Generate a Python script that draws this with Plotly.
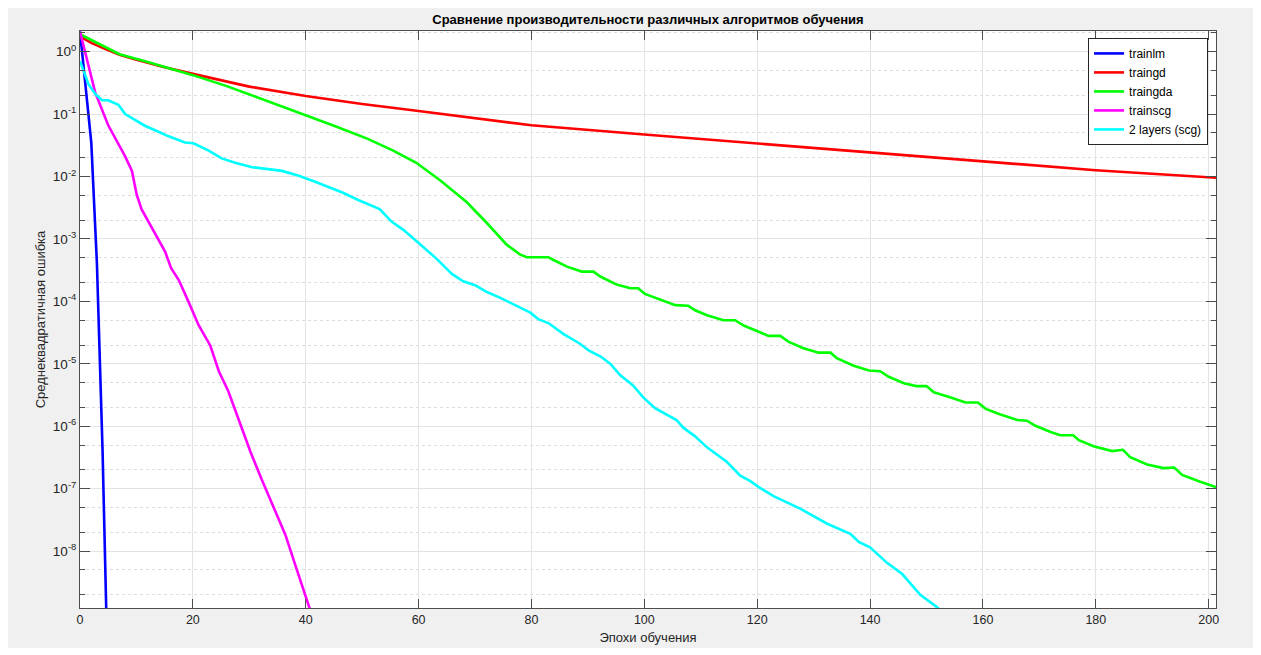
import plotly.graph_objects as go

title_text = "Сравнение производительности различных алгоритмов обучения"
x_label = "Эпохи обучения"
y_label = "Среднеквадратичная ошибка"

x_ticks = [0, 20, 40, 60, 80, 100, 120, 140, 160, 180, 200]
y_ticks = [1, 1e-1, 1e-2, 1e-3, 1e-4, 1e-5, 1e-6, 1e-7, 1e-8]
y_tick_text = ["10<sup>0</sup>", "10<sup>-1</sup>", "10<sup>-2</sup>", "10<sup>-3</sup>",
               "10<sup>-4</sup>", "10<sup>-5</sup>", "10<sup>-6</sup>", "10<sup>-7</sup>",
               "10<sup>-8</sup>"]

names = ["trainlm", "traingd", "traingda", "trainscg", "2 layers (scg)"]
colors = ["#0000ff", "#ff0000", "#00ff00", "#ff00ff", "#00ffff"]

lm_x = [0, 1, 2, 3, 4, 5]
lm_y = [2.1, 0.28, 0.035, 4.0e-4, 4.0e-7, 5.0e-11]

gd_x = [0, 2, 4, 7, 10, 15, 20, 30, 40, 50, 60, 70, 80, 100, 120, 140, 160, 180, 201.5]
gd_y = [1.74, 1.38, 1.15, 0.89, 0.74, 0.56, 0.44, 0.275, 0.195, 0.145, 0.112, 0.085,
        0.066, 0.047, 0.034, 0.0245, 0.0174, 0.0126, 0.0095]

gda_x = [0, 3.5, 7, 12, 20, 26, 32, 39, 45, 51, 55.5, 59.6, 63.8, 68.5, 72.1, 75.6, 78, 79.2,
         83, 83.9, 86.3, 88.9, 91, 92.2, 95.1, 97.5, 98.9, 100.1, 102.8, 105.5, 107.8, 109,
         111.1, 114, 116.1, 117.6, 120.5, 122, 124.1, 125.6, 128.2, 130.9, 133, 134.1, 137.1,
         139.8, 141.8, 143.3, 146, 148.2, 150, 151.3, 154.3, 156.9, 159.1, 160.5, 163.1,
         166.1, 167.8, 169.3, 172, 173.7, 176, 177, 179.6, 182.9, 184.8, 186.1, 189.1, 192,
         193.9, 195.3, 198.5, 201.5]
gda_y = [1.9, 1.32, 0.91, 0.68, 0.42, 0.28, 0.178, 0.102, 0.065, 0.040, 0.026, 0.0166,
         0.0087, 0.0039, 0.0018, 8.1e-4, 5.6e-4, 5.1e-4,
         5.1e-4, 4.6e-4, 3.6e-4, 3.0e-4, 3.0e-4, 2.5e-4, 1.86e-4, 1.62e-4, 1.62e-4, 1.32e-4,
         1.07e-4, 8.7e-5, 8.5e-5, 7.2e-5,
         6.0e-5, 5.0e-5, 5.0e-5, 4.1e-5, 3.2e-5, 2.8e-5, 2.8e-5, 2.24e-5, 1.78e-5, 1.51e-5,
         1.51e-5, 1.23e-5, 9.3e-6,
         7.8e-6, 7.6e-6, 6.2e-6, 4.9e-6, 4.4e-6, 4.4e-6, 3.5e-6, 2.9e-6, 2.4e-6, 2.4e-6,
         1.9e-6, 1.55e-6,
         1.26e-6, 1.23e-6, 1.02e-6, 8.1e-7, 7.2e-7, 7.2e-7, 6.0e-7, 4.8e-7, 4.0e-7, 4.2e-7,
         3.2e-7, 2.45e-7, 2.14e-7,
         2.19e-7, 1.66e-7, 1.29e-7, 1.05e-7]

scg_x = [0, 2.7, 5.0, 6.8, 8.0, 9.2, 10.05, 10.9, 13.3, 15.1, 16.15, 17.5, 19.2, 21.0, 23.1,
         24.6, 26.3, 28.1, 30.2, 32.2, 34.6, 36.4, 38.2, 40.5, 41.0]
scg_y = [2.1, 0.22, 0.066, 0.034, 0.021, 0.0123, 0.0051, 0.0030, 0.00123, 6.2e-4, 3.4e-4,
         2.2e-4, 1.0e-4, 4.2e-5, 1.95e-5, 7.6e-6, 3.6e-6, 1.32e-6, 3.9e-7, 1.41e-7, 4.5e-8,
         1.82e-8, 5.8e-9, 1.41e-9, 1.0e-9]

two_x = [0, 1.5, 2.7, 3.9, 5.0, 6.8, 8.0, 9.8, 11.5, 13.9, 15.7, 18.6, 20.1, 22.8, 25.1, 27.5,
         30.5, 35.8, 38.9, 41.9, 46.6, 49.3, 53.1, 55.2, 57.3, 59.6, 63.2, 65.9, 67.9, 70.0,
         72.1, 74.4, 78.0, 79.8, 81.2, 83.0, 85.7, 88.6, 90.2, 92.2, 94.0, 95.7, 98.0, 99.8,
         101.9, 105.7, 106.9, 109.0, 111.1, 114.6, 117.0, 118.8, 120.2, 122.9, 127.6, 129.1,
         132.4, 136.5, 138.0, 140.0, 143.0, 145.7, 148.9, 151.9, 153.0]
two_y = [0.71, 0.30, 0.21, 0.166, 0.166, 0.141, 0.10, 0.081, 0.065, 0.052, 0.044, 0.035,
         0.034, 0.026, 0.0195, 0.0166, 0.0141, 0.0123, 0.0102, 0.0081, 0.0055, 0.0042,
         0.0030, 0.0019, 0.0014, 9.3e-4, 4.8e-4, 2.75e-4, 2.1e-4, 1.82e-4, 1.41e-4, 1.15e-4,
         7.8e-5, 6.6e-5, 5.2e-5, 4.5e-5, 3.0e-5, 2.1e-5, 1.62e-5, 1.32e-5, 1.0e-5, 6.6e-6,
         4.5e-6, 2.9e-6, 1.95e-6, 1.26e-6, 9.5e-7, 6.9e-7, 4.6e-7, 2.7e-7, 1.62e-7, 1.32e-7,
         1.07e-7, 7.6e-8, 4.8e-8, 4.0e-8, 2.75e-8, 1.9e-8, 1.41e-8, 1.15e-8, 6.5e-9, 4.3e-9,
         2.0e-9, 1.26e-9, 1.0e-9]

series = [(lm_x, lm_y), (gd_x, gd_y), (gda_x, gda_y), (scg_x, scg_y), (two_x, two_y)]

font_family = "Liberation Sans, Arial, sans-serif"
axis_color = "#4d4d4d"

W, H = 1245, 640
ML, MR, MT, MB = 72, 37, 23, 40

fig = go.Figure()
for (xs, ys), nm, col in zip(series, names, colors):
    fig.add_trace(go.Scatter(x=xs, y=ys, mode="lines", name=nm,
                             line=dict(color=col, width=2.6)))

fig.update_layout(
    width=W, height=H,
    margin=dict(l=ML, r=MR, t=MT, b=MB, pad=0, autoexpand=False),
    paper_bgcolor="#f0f0f0",
    plot_bgcolor="white",
    font=dict(family=font_family, size=12, color="#262626"),
    title=dict(text="<b>" + title_text + "</b>", x=0.5, xref="paper", xanchor="center",
               y=1 - 11 / H, yanchor="middle", font=dict(size=13, color="#000000")),
    showlegend=True,
    legend=dict(x=0.993, xanchor="right", y=0.988, yanchor="top",
                bgcolor="white", bordercolor="#262626", borderwidth=1,
                font=dict(size=12, color="#000000"), tracegroupgap=0),
)

fig.update_xaxes(
    range=[0, 201.3], tickvals=x_ticks, ticks="inside", ticklen=9, tickcolor=axis_color,
    showline=True, linecolor=axis_color, linewidth=1, mirror="ticks",
    showgrid=True, gridcolor="#e3e3e3", gridwidth=1, zeroline=False, automargin=False,
    tickfont=dict(size=12.5, color="#262626"),
    title=dict(text=x_label, font=dict(size=13, color="#262626"), standoff=6),
)

fig.update_yaxes(
    type="log", range=[-8.91, 0.33], tickvals=y_ticks, ticktext=y_tick_text,
    ticks="inside", ticklen=10, tickcolor=axis_color,
    showline=True, linecolor=axis_color, linewidth=1, mirror="ticks",
    showgrid=True, gridcolor="#e3e3e3", gridwidth=1, zeroline=False, automargin=False,
    minor=dict(ticks="inside", ticklen=5, tickcolor=axis_color, showgrid=True,
               gridcolor="#dcdcdc", griddash="dot", gridwidth=1),
    tickfont=dict(size=13.5, color="#262626"),
    title=dict(text=y_label, font=dict(size=13, color="#262626"), standoff=4),
)

fig.write_html("out.html")
